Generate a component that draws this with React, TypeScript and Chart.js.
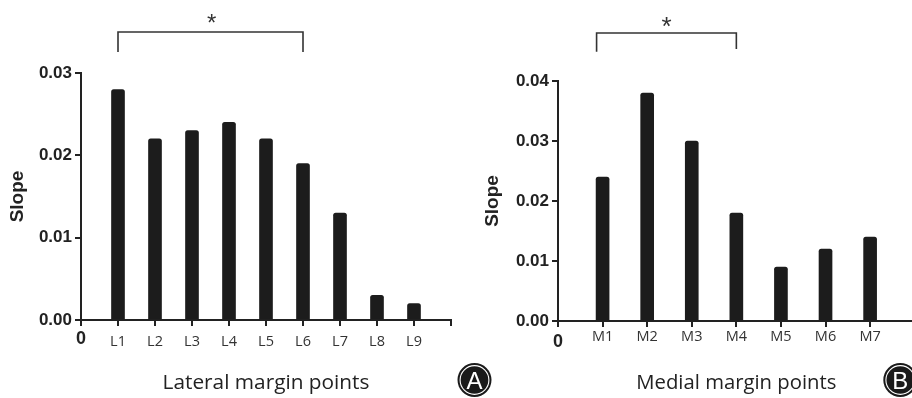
import React, { useEffect, useRef } from "react";
import { Chart, registerables } from "chart.js";

Chart.register(...registerables);

// ---------- data ----------
const lateralLabels = ["L1", "L2", "L3", "L4", "L5", "L6", "L7", "L8", "L9"];
const lateralSlope = [0.028, 0.022, 0.023, 0.024, 0.022, 0.019, 0.013, 0.003, 0.002];
const lateralYTicks = [0, 0.01, 0.02, 0.03];

const medialLabels = ["M1", "M2", "M3", "M4", "M5", "M6", "M7"];
const medialSlope = [0.024, 0.038, 0.03, 0.018, 0.009, 0.012, 0.014];
const medialYTicks = [0, 0.01, 0.02, 0.03, 0.04];

const yTitle = "Slope";
const lateralTitle = "Lateral margin points";
const medialTitle = "Medial margin points";
const significance = "*";

const ARIAL = "'Liberation Sans', Arial, Helvetica, sans-serif";
const OPEN = "'Open Sans', 'Noto Sans', sans-serif";

type PanelCfg = {
  width: number;
  height: number;
  labels: string[];
  values: number[];
  yTicks: number[];
  xMax: number;
  yAxisWidth: number;
  xAxisHeight: number;
  padTop: number;
  padRight: number;
  xTitle: string;
  xTitleSize: number;
  yTitlePad: number;
  xTitlePadBottom: number;
  zeroLineHeight: number;
  labelLineHeight: number;
  tickPad: number;
  bracket: {
    from: number;
    to: number;
    fromShift: number;
    rise: number;
    leftDrop: number;
    rightDrop: number;
    starRise: number;
    starShift: number;
    starSize: number;
  };
  letter: { text: string; cx: number; cy: number; r: number };
};

function drawCentered(
  ctx: CanvasRenderingContext2D,
  text: string,
  cx: number,
  cy: number,
  font: string,
  color: string
) {
  ctx.font = font;
  ctx.fillStyle = color;
  ctx.textAlign = "center";
  ctx.textBaseline = "alphabetic";
  const m = ctx.measureText(text);
  const y = cy + (m.actualBoundingBoxAscent - m.actualBoundingBoxDescent) / 2;
  const x = cx + (m.actualBoundingBoxLeft - m.actualBoundingBoxRight) / 2;
  ctx.fillText(text, x, y);
}

function makeAnnotations(cfg: PanelCfg) {
  return {
    id: "panelAnnotations",
    afterDraw(chart: any) {
      const ctx: CanvasRenderingContext2D = chart.ctx;
      const xs = chart.scales.x;
      const top = chart.chartArea.top;
      const b = cfg.bracket;
      const x1 = xs.getPixelForValue(b.from) + b.fromShift;
      const x2 = xs.getPixelForValue(b.to);
      const yH = top - b.rise;
      ctx.save();
      ctx.strokeStyle = "#333";
      ctx.lineWidth = 1.6;
      ctx.lineJoin = "miter";
      ctx.beginPath();
      ctx.moveTo(x1, top - b.leftDrop);
      ctx.lineTo(x1, yH);
      ctx.lineTo(x2, yH);
      ctx.lineTo(x2, top - b.rightDrop);
      ctx.stroke();
      drawCentered(
        ctx,
        significance,
        (x1 + x2) / 2 + b.starShift,
        yH - b.starRise,
        `${b.starSize}px ${ARIAL}`,
        "#333"
      );
      // panel letter
      const L = cfg.letter;
      ctx.beginPath();
      ctx.arc(L.cx, L.cy, L.r, 0, Math.PI * 2);
      ctx.fillStyle = "#1a1a1a";
      ctx.fill();
      ctx.beginPath();
      ctx.arc(L.cx, L.cy, L.r - 2.6, 0, Math.PI * 2);
      ctx.strokeStyle = "#fff";
      ctx.lineWidth = 1.1;
      ctx.stroke();
      drawCentered(ctx, L.text, L.cx, L.cy, `24px ${ARIAL}`, "#fff");
      ctx.restore();
    },
  };
}

function Panel({ cfg, left }: { cfg: PanelCfg; left: number }) {
  const ref = useRef<HTMLCanvasElement | null>(null);
  useEffect(() => {
    if (!ref.current) return;
    const points = cfg.values.map((v, i) => ({ x: i + 1, y: v }));
    const xTickValues: number[] = [];
    for (let i = 0; i <= cfg.xMax; i++) xTickValues.push(i);
    const chart = new Chart(ref.current, {
      type: "bar",
      data: {
        datasets: [
          {
            data: points as any,
            backgroundColor: "#1c1c1c",
            borderWidth: 0,
            borderRadius: { topLeft: 2.5, topRight: 2.5, bottomLeft: 0, bottomRight: 0 },
            borderSkipped: "bottom",
            barThickness: 13,
          },
        ],
      },
      options: {
        responsive: false,
        animation: false,
        devicePixelRatio: 1,
        layout: { padding: { top: cfg.padTop, right: cfg.padRight, left: 0, bottom: 0 } },
        plugins: { legend: { display: false }, tooltip: { enabled: false } },
        scales: {
          x: {
            type: "linear",
            min: 0,
            max: cfg.xMax,
            offset: false,
            z: 1,
            afterBuildTicks: (scale: any) => {
              scale.ticks = xTickValues.map((v) => ({ value: v }));
            },
            afterFit: (scale: any) => {
              scale.height = cfg.xAxisHeight;
            },
            grid: {
              display: true,
              offset: false,
              drawOnChartArea: false,
              drawTicks: true,
              tickLength: 6,
              color: "#222",
              tickColor: "#222",
              lineWidth: 2,
            },
            border: { display: true, color: "#222", width: 2 },
            ticks: {
              autoSkip: false,
              maxRotation: 0,
              padding: cfg.tickPad,
              color: (c: any) => (c.tick && c.tick.value === 0 ? "#222" : "#333"),
              font: (c: any) =>
                c.tick && c.tick.value === 0
                  ? { family: ARIAL, size: 18, weight: "bold", lineHeight: cfg.zeroLineHeight }
                  : { family: OPEN, size: 14.5, weight: "normal", lineHeight: cfg.labelLineHeight },
              callback: (v: any) => {
                const n = Math.round(Number(v));
                if (n === 0) return "0";
                return cfg.labels[n - 1] ?? "";
              },
            },
            title: {
              display: true,
              text: cfg.xTitle,
              color: "#222",
              font: { family: OPEN, size: cfg.xTitleSize, weight: "normal", lineHeight: 1 },
              padding: { top: 0, bottom: cfg.xTitlePadBottom },
            },
          },
          y: {
            type: "linear",
            min: 0,
            max: cfg.yTicks[cfg.yTicks.length - 1],
            afterBuildTicks: (scale: any) => {
              scale.ticks = cfg.yTicks.map((v) => ({ value: v }));
            },
            afterFit: (scale: any) => {
              scale.width = cfg.yAxisWidth;
            },
            grid: {
              display: true,
              drawOnChartArea: false,
              drawTicks: true,
              tickLength: 6,
              color: "#222",
              tickColor: "#222",
              lineWidth: 2,
            },
            border: { display: true, color: "#222", width: 2 },
            ticks: {
              padding: 3,
              color: "#222",
              font: { family: ARIAL, size: 17, weight: "bold" },
              callback: (v: any) => Number(v).toFixed(2),
            },
            title: {
              display: true,
              text: yTitle,
              color: "#222",
              font: { family: ARIAL, size: 19, weight: "bold", lineHeight: 1 },
              padding: { top: cfg.yTitlePad, bottom: 0 },
            },
          },
        },
      },
      plugins: [makeAnnotations(cfg)],
    } as any);
    return () => chart.destroy();
  }, [cfg]);
  return (
    <canvas
      ref={ref}
      width={cfg.width}
      height={cfg.height}
      style={{
        position: "absolute",
        left,
        top: 0,
        width: cfg.width,
        height: cfg.height,
      }}
    />
  );
}

const panelA: PanelCfg = {
  width: 500,
  height: 398,
  labels: lateralLabels,
  values: lateralSlope,
  yTicks: lateralYTicks,
  xMax: 10,
  yAxisWidth: 81,
  xAxisHeight: 78,
  padTop: 73,
  padRight: 49,
  xTitle: lateralTitle,
  xTitleSize: 20.8,
  yTitlePad: 8.5,
  xTitlePadBottom: 4.5,
  zeroLineHeight: 1,
  labelLineHeight: 1.6,
  tickPad: 4,
  bracket: {
    from: 1,
    to: 6,
    fromShift: 0,
    rise: 41,
    leftDrop: 21,
    rightDrop: 21,
    starRise: 13.5,
    starShift: 1,
    starSize: 24,
  },
  letter: { text: "A", cx: 474.5, cy: 380, r: 17 },
};

const panelB: PanelCfg = {
  width: 470,
  height: 398,
  labels: medialLabels,
  values: medialSlope,
  yTicks: medialYTicks,
  xMax: 8,
  yAxisWidth: 98,
  xAxisHeight: 77,
  padTop: 81,
  padRight: 15.3,
  xTitle: medialTitle,
  xTitleSize: 20.3,
  yTitlePad: 23.4,
  xTitlePadBottom: 5,
  zeroLineHeight: 1,
  labelLineHeight: 0.6,
  tickPad: 5.7,
  bracket: {
    from: 1,
    to: 4,
    fromShift: -6,
    rise: 48,
    leftDrop: 29.3,
    rightDrop: 32,
    starRise: 11,
    starShift: 0,
    starSize: 26,
  },
  letter: { text: "B", cx: 440.3, cy: 380, r: 17 },
};

export default function App() {
  return (
    <div
      style={{
        position: "fixed",
        left: 0,
        top: 0,
        width: 912,
        height: 398,
        overflow: "hidden",
        background: "#fff",
      }}
    >
      <Panel cfg={panelA} left={0} />
      <Panel cfg={panelB} left={460} />
    </div>
  );
}
